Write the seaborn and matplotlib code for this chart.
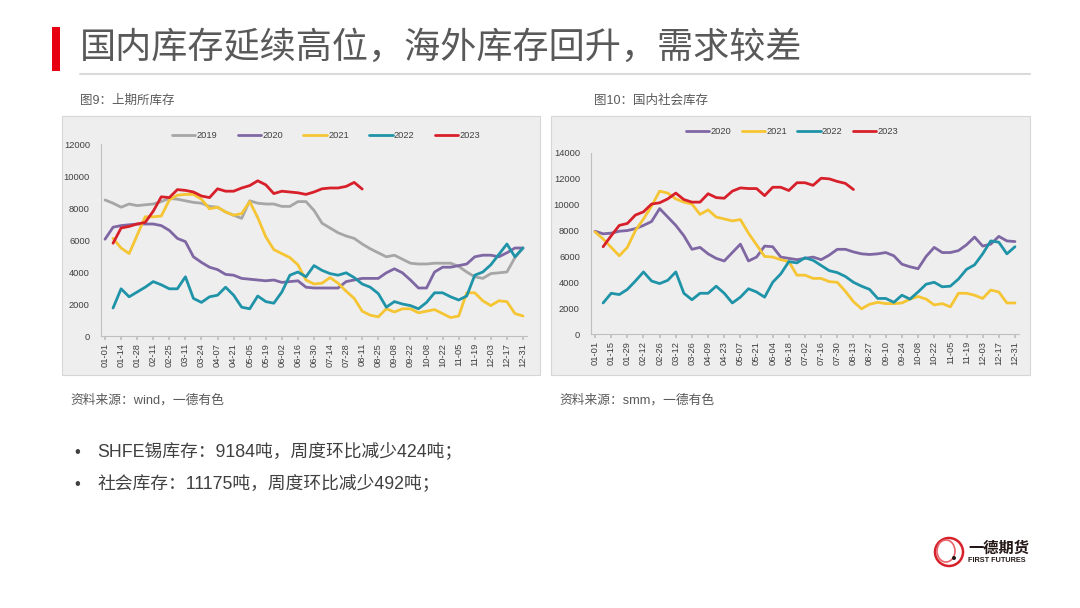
import numpy as np
import pandas as pd
import seaborn as sns
import matplotlib.pyplot as plt
from matplotlib.patches import Rectangle, Ellipse
from matplotlib.lines import Line2D

sns.set_theme(style="white")
plt.rcParams['font.family'] = ['Liberation Sans', 'Noto Sans CJK SC', 'DejaVu Sans']

# ---- data: SHFE tin inventory (tonnes), weekly categories
shfe_dates = ["01-01", "01-07", "01-14", "01-21", "01-28", "02-04", "02-11", "02-18", "02-25", "03-04",
              "03-11", "03-17", "03-24", "03-31", "04-07", "04-14", "04-21", "04-28", "05-05", "05-12",
              "05-19", "05-26", "06-02", "06-09", "06-16", "06-23", "06-30", "07-07", "07-14", "07-21",
              "07-28", "08-04", "08-11", "08-18", "08-25", "09-01", "09-08", "09-15", "09-22", "09-29",
              "10-08", "10-15", "10-22", "10-29", "11-05", "11-12", "11-19", "11-26", "12-03", "12-10",
              "12-17", "12-24", "12-31"]
shfe_2019 = [8500, 8300, 8050, 8250, 8150, 8200, 8250, 8400, 8600, 8550,
             8450, 8350, 8300, 8100, 8050, 7750, 7550, 7350, 8450, 8300,
             8250, 8250, 8100, 8100, 8400, 8400, 7850, 7050, 6750, 6450,
             6250, 6100, 5750, 5450, 5200, 4950, 5050, 4800, 4550, 4500,
             4500, 4550, 4550, 4550, 4350, 4000, 3700, 3600, 3900, 3950,
             4000, 4900, 5500]
shfe_2020 = [6050, 6800, 6900, 6950, 7000, 7000, 7000, 6900, 6600, 6100,
             5900, 4950, 4600, 4300, 4150, 3850, 3800, 3600, 3550, 3500,
             3450, 3500, 3350, 3400, 3450, 3050, 3000, 3000, 3000, 3000,
             3400, 3500, 3600, 3600, 3600, 3950, 4200, 3950, 3500, 3000,
             3000, 4000, 4300, 4300, 4400, 4500, 4950, 5050, 5050, 4950,
             5200, 5500, 5500]
shfe_2021 = [None, 6100, 5500, 5150, 6300, 7450, 7450, 7500, 8500, 8800,
             8850, 8850, 8550, 7950, 8050, 7750, 7550, 7650, 8400, 7400,
             6200, 5400, 5150, 4900, 4450, 3500, 3250, 3300, 3650, 3300,
             2800, 2350, 1550, 1300, 1200, 1700, 1500, 1700, 1700, 1450,
             1550, 1650, 1400, 1150, 1250, 2700, 2700, 2200, 1900, 2200,
             2150, 1400, 1250]
shfe_2022 = [None, 1750, 2950, 2450, 2750, 3050, 3400, 3200, 2950, 2950,
             3700, 2350, 2100, 2450, 2550, 3050, 2550, 1800, 1700, 2500,
             2150, 2050, 2750, 3800, 4000, 3700, 4400, 4100, 3900, 3800,
             3950, 3650, 3250, 3050, 2650, 1800, 2150, 2000, 1900, 1700,
             2100, 2700, 2700, 2450, 2250, 2500, 3800, 4000, 4450, 5100,
             5750, 4950, 5500]
shfe_2023 = [None, 5800, 6750, 6850, 7000, 7100, 7800, 8700, 8650, 9150,
             9100, 9000, 8750, 8650, 9200, 9050, 9050, 9250, 9400, 9700,
             9450, 8900, 9050, 9000, 8950, 8850, 9000, 9200, 9250, 9250,
             9350, 9600, 9184] + [None] * 20

# ---- data: domestic social inventory (tonnes)
smm_dates = ["01-01", "01-08", "01-15", "01-22", "01-29", "02-05", "02-12", "02-19", "02-26", "03-05",
             "03-12", "03-19", "03-26", "04-02", "04-09", "04-16", "04-23", "04-30", "05-07", "05-14",
             "05-21", "05-28", "06-04", "06-11", "06-18", "06-25", "07-02", "07-09", "07-16", "07-23",
             "07-30", "08-06", "08-13", "08-20", "08-27", "09-03", "09-10", "09-17", "09-24", "10-01",
             "10-08", "10-15", "10-22", "10-29", "11-05", "11-12", "11-19", "11-26", "12-03", "12-10",
             "12-17", "12-24", "12-31"]
smm_2020 = [7950, 7750, 7800, 7950, 8000, 8150, 8400, 8700, 9700, 9050,
            8400, 7600, 6550, 6700, 6200, 5850, 5650, 6300, 6950, 5650,
            5950, 6800, 6750, 5950, 5850, 5750, 5850, 5950, 5750, 6100,
            6550, 6550, 6350, 6200, 6150, 6200, 6300, 6050, 5400, 5200,
            5050, 6000, 6700, 6300, 6300, 6450, 6900, 7500, 6800, 6950,
            7550, 7200, 7150]
smm_2021 = [7900, 7350, 6700, 6050, 6700, 8000, 8900, 9900, 11050, 10900,
            10450, 10200, 10050, 9250, 9600, 9050, 8900, 8750, 8850, 7800,
            6900, 6000, 5950, 5750, 5600, 4550, 4550, 4300, 4300, 4050,
            4000, 3300, 2500, 1950, 2300, 2450, 2350, 2350, 2400, 2700,
            2900, 2700, 2250, 2350, 2100, 3150, 3150, 3000, 2750, 3400,
            3250, 2400, 2400]
smm_2022 = [None, 2400, 3150, 3050, 3450, 4100, 4800, 4100, 3900, 4150,
            4800, 3150, 2650, 3150, 3150, 3700, 3150, 2400, 2850, 3500,
            3250, 2850, 4000, 4650, 5600, 5500, 5900, 5700, 5300, 4900,
            4750, 4450, 4000, 3700, 3450, 2750, 2750, 2450, 3000, 2700,
            3250, 3850, 4000, 3650, 3700, 4250, 5000, 5350, 6200, 7200,
            7100, 6200, 6750]
smm_2023 = [None, 6750, 7600, 8400, 8550, 9200, 9450, 10050, 10150, 10450,
            10900, 10400, 10200, 10200, 10850, 10550, 10500, 11050, 11300, 11250,
            11250, 10700, 11350, 11350, 11100, 11700, 11700, 11500, 12050, 12000,
            11800, 11650, 11175] + [None] * 20

colors = {"2019": "#a6a6a6", "2020": "#7f67a3", "2021": "#f5c533",
          "2022": "#1f93a7", "2023": "#d7202a"}

W, H = 1080, 608
fig = plt.figure(figsize=(W / 100, H / 100), dpi=100)
fig.patch.set_facecolor("white")


def fx(x):
    return x / W


def fy(y):
    return 1 - y / H


def long_form(dates, series):
    frames = []
    for year, vals in series.items():
        frames.append(pd.DataFrame({"pos": range(len(dates)), "date": dates,
                                    "value": pd.to_numeric(pd.Series(vals), errors="coerce"),
                                    "year": year}))
    return pd.concat(frames).dropna()


def panel(x0, y0, x1, y1):
    fig.patches.append(Rectangle((fx(x0), fy(y1)), fx(x1 - x0), (y1 - y0) / H,
                                 transform=fig.transFigure, facecolor="#eeeeef",
                                 edgecolor="#d6d6d6", lw=0.8, zorder=-5))


def draw_chart(rect, dates, series, ymax, legend_xy, colspace):
    ax = fig.add_axes(rect)
    ax.set_facecolor("none")
    df = long_form(dates, series)
    sns.lineplot(data=df, x="pos", y="value", hue="year", palette=colors,
                 linewidth=2.0, legend=False, ax=ax, sort=False)
    ax.set_xlim(-0.5, len(dates) - 0.5)
    ax.set_ylim(0, ymax)
    ax.set_yticks(range(0, ymax + 1, 2000))
    ax.set_yticklabels([str(v) for v in range(0, ymax + 1, 2000)], fontsize=6.7, color="#404040")
    ax.set_xticks(range(0, len(dates), 2))
    ax.set_xticklabels(dates[::2], rotation=90, fontsize=6.7, color="#404040")
    ax.set_xlabel("")
    ax.set_ylabel("")
    for s in ["top", "right"]:
        ax.spines[s].set_visible(False)
    for s in ["left", "bottom"]:
        ax.spines[s].set_color("#bfbfbf")
        ax.spines[s].set_linewidth(0.8)
    ax.tick_params(axis="x", length=3, color="#bfbfbf", pad=2, bottom=True)
    ax.tick_params(axis="y", length=0, pad=8)
    handles = [Line2D([0], [0], color=colors[y], lw=2.0) for y in series]
    fig.legend(handles, list(series), loc="center", bbox_to_anchor=legend_xy,
               ncol=len(series), frameon=False, fontsize=6.7, handlelength=2.5,
               handletextpad=0.15, columnspacing=colspace, labelcolor="#404040")
    return ax


# panels behind the charts
panel(62, 116, 540, 375)
panel(551, 116, 1030, 375)

draw_chart([fx(101), fy(336), fx(426), 192 / H], shfe_dates,
           {"2019": shfe_2019, "2020": shfe_2020, "2021": shfe_2021,
            "2022": shfe_2022, "2023": shfe_2023},
           12000, (fx(326), fy(136)), 2.2)
draw_chart([fx(591), fy(334), fx(428), 181 / H], smm_dates,
           {"2020": smm_2020, "2021": smm_2021, "2022": smm_2022, "2023": smm_2023},
           14000, (fx(792), fy(132)), 1.1)

# header
fig.patches.append(Rectangle((fx(52), fy(71)), fx(8), 44 / H, transform=fig.transFigure,
                             facecolor="#e60012", edgecolor="none"))
fig.text(fx(80), fy(48), "国内库存延续高位，海外库存回升，需求较差", fontsize=26,
         color="#595959", va="center", ha="left", family=["Noto Sans CJK SC", "DejaVu Sans"])
fig.lines.append(Line2D([fx(80), fx(1030)], [fy(74), fy(74)], transform=fig.transFigure,
                        color="#dadada", lw=1.5))

# captions
fig.text(fx(80), fy(101), "图9：上期所库存", fontsize=9, color="#595959", va="center")
fig.text(fx(594), fy(101), "图10：国内社会库存", fontsize=9, color="#595959", va="center")
fig.text(fx(70), fy(400), "资料来源：wind，一德有色", fontsize=9.2, color="#595959", va="center")
fig.text(fx(559), fy(400), "资料来源：smm，一德有色", fontsize=9.2, color="#595959", va="center")

# bullets
for yy, txt in [(452, "SHFE锡库存：9184吨，周度环比减少424吨；"),
                (484, "社会库存：11175吨，周度环比减少492吨；")]:
    fig.text(fx(74), fy(yy), "•", fontsize=12, color="#404040", va="center")
    fig.text(fx(97), fy(yy), txt, fontsize=12.8, color="#404040", va="center")

# logo
fig.patches.append(Ellipse((fx(949), fy(552)), fx(28), 28 / H, transform=fig.transFigure,
                           facecolor="white", edgecolor="#d7202a", lw=1.8))
fig.patches.append(Ellipse((fx(946), fy(551)), fx(18), 22 / H, transform=fig.transFigure,
                           facecolor="none", edgecolor="#e8636a", lw=1.2))
fig.patches.append(Ellipse((fx(954), fy(558)), fx(4), 4 / H, transform=fig.transFigure,
                           facecolor="#231815", edgecolor="none"))
fig.text(fx(968), fy(549), "一德期货", fontsize=11, fontweight="bold", color="#231815", va="center")
fig.text(fx(968), fy(561), "FIRST FUTURES", fontsize=5.2, fontweight="bold", color="#231815", va="center")

fig.savefig("out.png", dpi=100, facecolor=fig.get_facecolor())
